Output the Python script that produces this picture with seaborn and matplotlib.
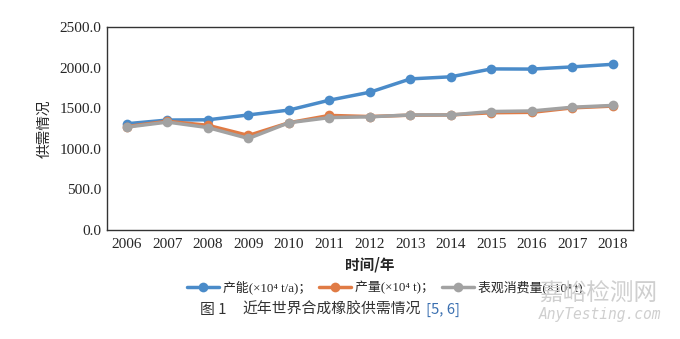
import numpy as np
import pandas as pd
import seaborn as sns
import matplotlib
matplotlib.use("Agg")
import matplotlib.pyplot as plt

years = ["2006", "2007", "2008", "2009", "2010", "2011", "2012",
         "2013", "2014", "2015", "2016", "2017", "2018"]
capacity = [1310, 1355, 1358, 1418, 1478, 1600, 1698, 1862, 1888, 1985, 1983, 2010, 2042]
production = [1275, 1340, 1290, 1165, 1322, 1412, 1398, 1415, 1418, 1445, 1450, 1505, 1527]
consumption = [1268, 1330, 1262, 1128, 1322, 1385, 1395, 1418, 1418, 1460, 1467, 1513, 1535]
series_names = ["产能(×10⁴ t/a)；", "产量(×10⁴ t)；", "表观消费量(×10⁴ t)"]
colors = ["#4A8BC9", "#E07B45", "#A2A2A2"]

df = pd.DataFrame({
    "value": capacity + production + consumption,
    "series": [series_names[0]] * len(years) + [series_names[1]] * len(years) + [series_names[2]] * len(years),
})
df["x"] = np.tile(np.arange(len(years)), 3)

sns.set_theme(style="white")
plt.rcParams["font.family"] = ["Liberation Serif", "Noto Sans CJK SC", "DejaVu Sans"]

fig = plt.figure(figsize=(6.8, 3.39), dpi=100)
ax = fig.add_axes([0.157, 0.3215, 0.774, 0.5985])

sns.lineplot(data=df, x="x", y="value", hue="series", palette=colors,
             hue_order=series_names, marker="o", markersize=7, markeredgewidth=0,
             linewidth=2.5, ax=ax, legend=True)

ax.set_xlim(-0.5, len(years) - 0.5)
ax.set_ylim(0, 2500)
ax.set_xticks(np.arange(len(years)))
ax.set_xticklabels(years)
yt = [0, 500, 1000, 1500, 2000, 2500]
ax.set_yticks(yt)
ax.set_yticklabels([f"{v:.1f}" for v in yt])
ax.tick_params(axis="x", direction="in", length=4, width=0.8, labelsize=11, pad=6, color="#333333")
ax.tick_params(axis="y", direction="out", length=0, labelsize=11, pad=4)
for s in ax.spines.values():
    s.set_visible(True)
    s.set_color("#333333")
    s.set_linewidth(1.0)
ax.set_xlabel("时间/年", fontsize=10.5, fontweight="bold", labelpad=4,
              family=["Noto Sans CJK SC", "DejaVu Sans"])
ax.set_ylabel("供需情况", fontsize=10.5, labelpad=6,
              family=["Noto Sans CJK SC", "DejaVu Sans"])

leg = ax.legend(loc="upper center", bbox_to_anchor=(0.528, -0.225), ncol=3, frameon=False,
                fontsize=9.3, handlelength=2.5, columnspacing=0.6, handletextpad=0.3,
                borderaxespad=0)

cap_y = 1 - 310 / 339
fig.text(200 / 680, cap_y, "图 1", fontsize=10.7, color="#333333",
         family=["Noto Sans CJK SC", "DejaVu Sans"], va="center")
fig.text(242 / 680, cap_y, "近年世界合成橡胶供需情况", fontsize=10.7, color="#333333",
         family=["Noto Sans CJK SC", "DejaVu Sans"], va="center")
fig.text(426 / 680, cap_y, "[5, 6]", fontsize=10.7, color="#3A6FB0",
         family=["Noto Sans CJK SC", "DejaVu Sans"], va="center")
fig.text(598 / 680, 1 - 294 / 339, "嘉峪检测网", fontsize=17, color="#CFCFCF",
         family=["Noto Sans CJK SC", "DejaVu Sans"], va="center", ha="center", zorder=0)
fig.text(600 / 680, 1 - 314 / 339, "AnyTesting.com", fontsize=10.5, color="#CFCFCF", style="italic",
         family=["DejaVu Sans Mono", "DejaVu Sans"], va="center", ha="center", zorder=0)

fig.savefig("out.png", dpi=100)
